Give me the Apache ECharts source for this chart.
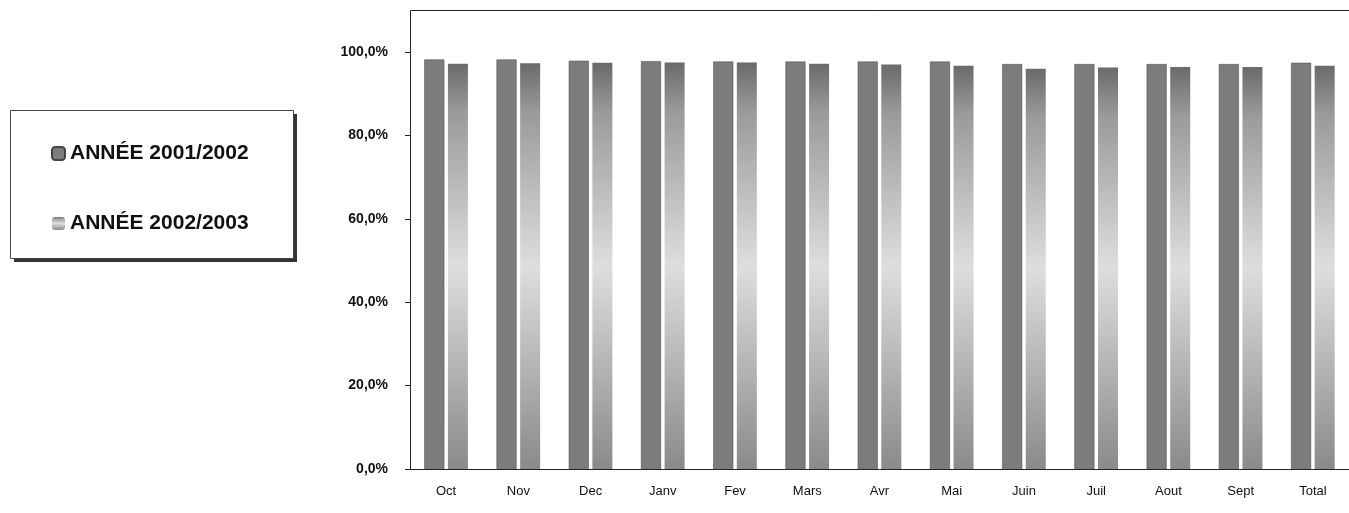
<!DOCTYPE html>
<html>
<head>
<meta charset="utf-8">
<script src="https://cdn.jsdelivr.net/npm/echarts@6/dist/echarts.min.js"></script>
<style>html,body{margin:0;padding:0;background:#fff}</style>
</head>
<body>
<div id="chart" style="width:1349px;height:513px;"></div>
<script>
var months = ['Oct', 'Nov', 'Dec', 'Janv', 'Fev', 'Mars', 'Avr', 'Mai', 'Juin', 'Juil', 'Aout', 'Sept', 'Total'];
var annee1 = [98.2, 98.2, 97.9, 97.8, 97.7, 97.7, 97.7, 97.7, 97.1, 97.1, 97.1, 97.1, 97.4];
var annee2 = [97.2, 97.3, 97.4, 97.5, 97.5, 97.2, 97.0, 96.7, 96.0, 96.3, 96.4, 96.4, 96.7];
var names = ['ANNÉE 2001/2002', 'ANNÉE 2002/2003'];

var narrow = '"Liberation Sans Narrow", "Arial Narrow", sans-serif';
var myChart = echarts.init(document.getElementById('chart'));
myChart.setOption({
    animation: false,
    graphic: [{
        type: 'rect', left: 14, top: 114, shape: {width: 283, height: 148},
        style: {fill: '#333'}
    }, {
        type: 'rect', left: 10, top: 110, shape: {width: 283, height: 148},
        style: {fill: '#fff', stroke: '#444', lineWidth: 1}
    }, {
        // cadre du haut et prolongement de l'axe vertical
        type: 'polyline', shape: {points: [[410.5, 52], [410.5, 10.5], [1349, 10.5]]},
        style: {stroke: '#222', lineWidth: 1, fill: null}
    }],
    legend: {
        orient: 'vertical', left: 46, top: 138, itemGap: 49,
        itemWidth: 13, itemHeight: 13,
        textStyle: {fontFamily: 'Liberation Sans, Arial', fontWeight: 'bold', fontSize: 21, color: '#111'},
        data: names
    },
    grid: {left: 410, right: 0, top: 52, bottom: 44},
    xAxis: {
        type: 'category', data: months,
        axisLine: {lineStyle: {color: '#222'}},
        axisTick: {show: false},
        axisLabel: {fontFamily: narrow, fontSize: 13, color: '#111', margin: 16}
    },
    yAxis: {
        type: 'value', min: 0, max: 100, interval: 20,
        splitLine: {show: false},
        axisLine: {show: true, lineStyle: {color: '#222'}},
        axisTick: {show: true, length: 5},
        axisLabel: {
            fontFamily: narrow, fontWeight: 'bold', fontSize: 14, color: '#111', margin: 22,
            formatter: function (v) { return v.toFixed(1).replace('.', ',') + '%'; }
        }
    },
    series: [{
        name: names[0], type: 'bar', data: annee1, barWidth: 20, barGap: '18%',
        itemStyle: {color: '#7c7c7c', borderColor: '#444', borderWidth: 0.5}
    }, {
        name: names[1], type: 'bar', data: annee2, barWidth: 20,
        itemStyle: {
            color: new echarts.graphic.LinearGradient(0, 0, 0, 1, [
                {offset: 0, color: '#6a6a6a'},
                {offset: 0.12, color: '#9a9a9a'},
                {offset: 0.5, color: '#dedede'},
                {offset: 1, color: '#8a8a8a'}
            ])
        }
    }]
});
</script>
</body>
</html>
